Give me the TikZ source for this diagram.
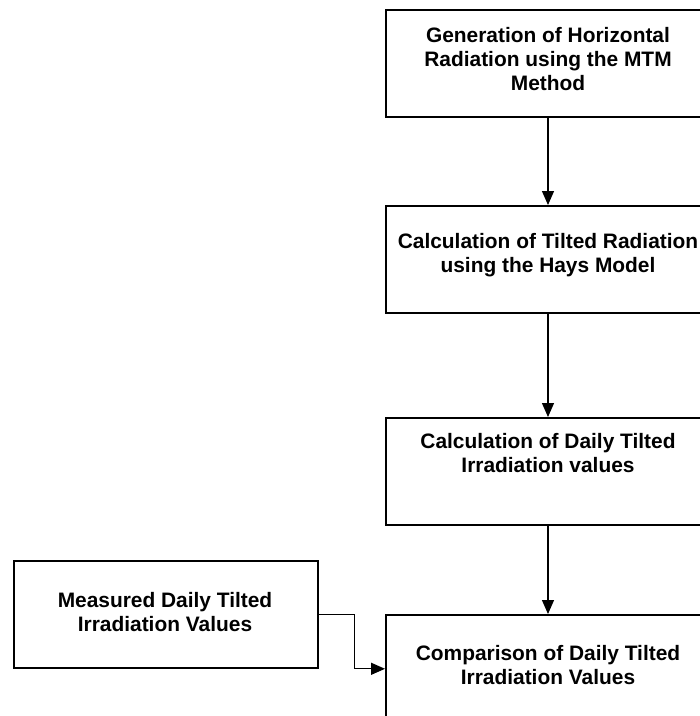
\documentclass[tikz,border=0pt]{standalone}
\usepackage{fontspec}
\setmainfont{Liberation Sans}
\usetikzlibrary{arrows.meta}
\begin{document}
\begin{tikzpicture}[x=1pt,y=-1pt,
  box/.style={draw=black, line width=1.6pt, minimum width=326pt, minimum height=107pt, inner sep=0pt, anchor=north west},
  lbox/.style={draw=black, line width=1.6pt, minimum width=304pt, minimum height=107pt, inner sep=0pt, anchor=north west},
  txt/.style={font=\fontsize{20.9}{24}\selectfont\bfseries, align=center, inner sep=0pt, anchor=north},
  arr/.style={line width=1.3pt, -{Triangle[width=12pt,length=14pt]}}]
\useasboundingbox (0,0) rectangle (700,716);
\fill[white] (0,0) rectangle (700,716);
\node[box] (b1) at (385,9) {};
\node[box] (b2) at (385,205) {};
\node[box] (b3) at (385,417) {};
\node[box, minimum height=108pt] (b4) at (385,614) {};
\node[lbox] (m) at (13,560) {};
\node[txt] (t1) at (548,27) {Generation of Horizontal\\Radiation using the MTM\\Method};
\node[txt] (t2) at (548,233) {Calculation of Tilted Radiation\\using the Hays Model};
\node[txt] (t3) at (548,433) {Calculation of Daily Tilted\\Irradiation values};
\node[txt] (t4) at (548,645) {Comparison of Daily Tilted\\Irradiation Values};
\node[txt] (tm) at (165,592) {Measured Daily Tilted\\Irradiation Values};
\draw[arr] (b1.south -| 548,0) -- (b2.north -| 548,0);
\draw[arr] (b2.south -| 548,0) -- (b3.north -| 548,0);
\draw[arr] (b3.south -| 548,0) -- (b4.north -| 548,0);
\draw[arr] (m.east) -- ++(36,0) |- (b4.west);
\end{tikzpicture}
\end{document}
